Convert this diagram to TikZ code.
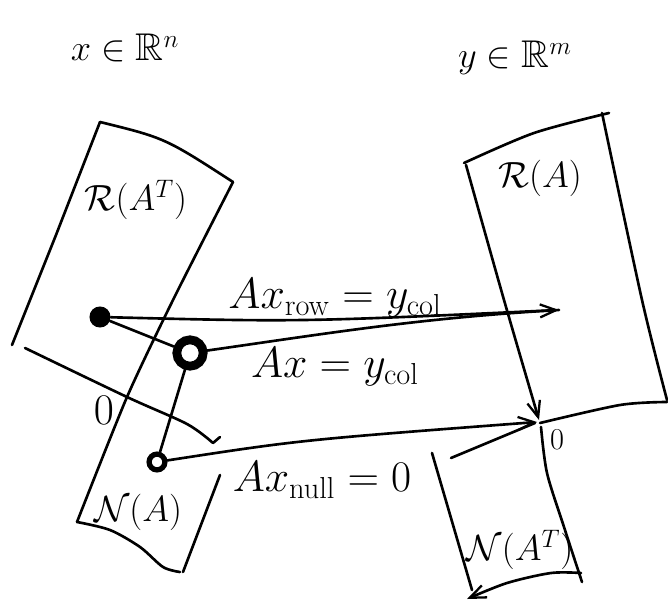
\documentclass[tikz,border=0pt]{standalone}
\usepackage{amsmath,amssymb}
\usepackage{tikz}
\usetikzlibrary{arrows.meta}

\begin{document}
\begin{tikzpicture}[
    x=0.02cm, y=-0.02cm,
    edge/.style={
        line width=1.5pt,
        line cap=round,
        line join=round
    },
    mapsto/.style={
        edge,
        -{Straight Barb[length=3.2mm,width=2.6mm,line width=1.3pt]}
    },
    lbl/.style={
        font=\fontsize{22}{24}\selectfont,
        inner sep=1pt
    },
    maplbl/.style={
        font=\fontsize{26}{28}\selectfont,
        inner sep=1pt
    },
    small/.style={
        font=\fontsize{19}{21}\selectfont,
        inner sep=1pt
    }
]
\useasboundingbox (0,0) rectangle (668,607);

% ---- Spaces ----
\node[lbl] (xspace) at (125,48) {$x\in\mathbb{R}^n$};
\node[lbl] (yspace) at (515,58) {$y\in\mathbb{R}^m$};

% ---- Row space and null space (left) ----
\draw[edge] (100,122) .. controls (165,138) .. (233,182);
\draw[edge] (100,122) -- (56,235) -- (12,345);
\draw[edge] plot[smooth, tension=0.4] coordinates {(233,182) (173,300) (127,397) (77,522)};
\draw[edge] plot[smooth] coordinates {(25,348) (127,397) (187,424) (213,443)} -- (220,437);
\draw[edge] plot[smooth] coordinates {(77,522) (110,530) (140,547) (163,567) (180,572)};
\draw[edge] (183,572) -- (220,475);

\node[lbl] (rowsp)  at (136,200) {$\mathcal{R}(A^T)$};
\node[lbl] (nullsp) at (138,512) {$\mathcal{N}(A)$};
\node[maplbl] (zerox)  at (104,410) {$0$};

% ---- Column space and left null space (right) ----
\draw[edge] plot[smooth] coordinates {(464,163) (534,133) (609,113)};
\draw[edge] plot[smooth] coordinates {(602,113) (642,300) (667,400)};
\draw[mapsto] plot[smooth] coordinates {(466,165) (504,300) (539,420)};
\draw[edge] plot[smooth] coordinates {(540,423) (620,405) (667,402)};
\draw[edge] (451,458) -- (535,423);
\draw[edge] (432,453) -- (472,590);
\draw[edge] plot[smooth] coordinates {(541,427) (547,473) (564,527) (582,582)};
\draw[mapsto] plot[smooth] coordinates {(581,573) (551,573) (507,583) (467,599)};

\node[lbl] (colsp)  at (540,178) {$\mathcal{R}(A)$};
\node[lbl] (lnull)  at (520,550) {$\mathcal{N}(A^T)$};
\node[small] (zeroy) at (557,440) {$0$};

% ---- Vectors ----
\node[circle, fill, inner sep=0pt, minimum size=12pt] (xrow) at (100,317) {};
\node[circle, draw, fill=white, line width=5pt, inner sep=0pt, minimum size=15pt] (xjn) at (190,353) {};
\node[circle, draw, fill=white, line width=3pt, inner sep=0pt, minimum size=9pt] (xnull) at (157,462) {};
\coordinate (ycol) at (559,310);
\coordinate (origin) at (537,422);

\draw[edge] (xrow) -- (xjn);
\draw[edge] (xjn) -- (xnull);
\draw[mapsto] (xrow) .. controls (300,322) .. (ycol);
\draw[edge] (xjn) .. controls (330,333) and (420,318) .. (ycol);
\draw[mapsto] (xnull) .. controls (300,440) .. (origin);

% ---- Labels on the maps ----
\node[maplbl] (lrow)  at (335,298) {$Ax_{\mathrm{row}}=y_{\mathrm{col}}$};
\node[maplbl] (lx)    at (335,367) {$Ax=y_{\mathrm{col}}$};
\node[maplbl] (lnul)  at (322,480) {$Ax_{\mathrm{null}}=0$};

\end{tikzpicture}
\end{document}
